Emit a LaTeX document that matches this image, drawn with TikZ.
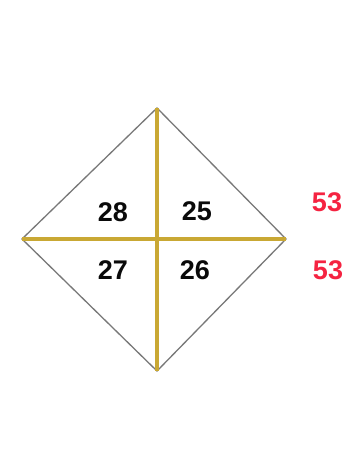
\documentclass[tikz,border=0pt]{standalone}
\usepackage{fontspec}
\setmainfont{Liberation Sans}
\usepackage{tikz}
\usetikzlibrary{positioning}
\usepackage{xcolor}
\definecolor{ink}{RGB}{10,10,10}
\definecolor{edge}{RGB}{120,120,120}
\definecolor{gold}{RGB}{201,168,52}
\definecolor{sumred}{RGB}{245,35,65}
\tikzset{
  side/.style={draw=edge,line width=1.3pt},
  axis/.style={draw=gold,line width=3.6pt},
  num/.style={font=\fontsize{27}{30}\selectfont\bfseries,text=ink,inner sep=0pt},
  total/.style={font=\fontsize{27}{30}\selectfont\bfseries,text=sumred,inner sep=0pt},
}

\begin{document}
\begin{tikzpicture}[x=1pt,y=-1pt]
  \useasboundingbox[fill=white] (0,0) rectangle (344,449);
  \coordinate (t) at (157,108);
  \coordinate (l) at (22,239);
  \coordinate (r) at (286,239);
  \coordinate (b) at (157,371);
  \draw[side] (t) -- (r) -- (b) -- (l) -- cycle;
  \draw[axis] (l) -- (r);
  \draw[axis] (t) -- (b);
  \node[num] (n28) at (113,212) {28};
  \node[num] (n25) at (197,211) {25};
  \node[num] (n27) at (113,270) {27};
  \node[num] (n26) at (195,270) {26};
  \node[total] (s1) at (327,202) {53};
  \node[total] (s2) at (328,270) {53};
\end{tikzpicture}
\end{document}
